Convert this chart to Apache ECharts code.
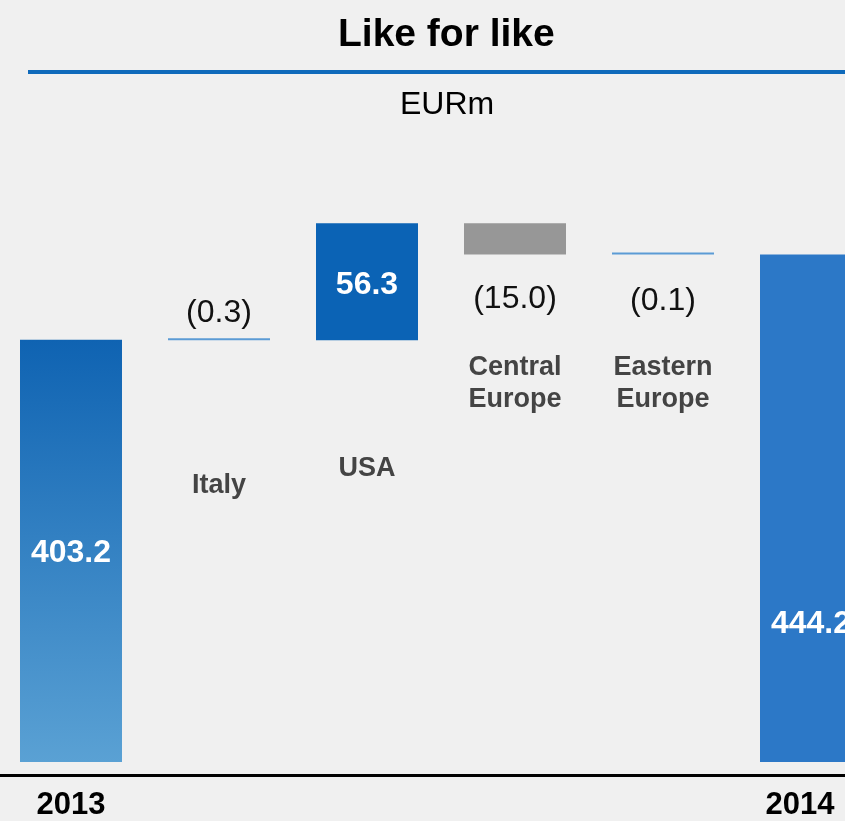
<!DOCTYPE html>
<html>
<head>
<meta charset="utf-8">
<script src="https://cdn.jsdelivr.net/npm/echarts@6/dist/echarts.min.js"></script>
<style>
  html, body { margin: 0; padding: 0; background: #f0f0f0; }
  #main { width: 845px; height: 821px; }
</style>
</head>
<body>
<div id="main"></div>
<script>
// waterfall data (EURm)
var categories = ['2013', 'Italy', 'USA', 'Central Europe', 'Eastern Europe', '2014'];
var labels = ['2013', 'Italy', 'USA', 'Central\nEurope', 'Eastern\nEurope', '2014'];
var startTotal = 403.2;
var changes = [-0.3, 56.3, -15.0, -0.1];
var endTotal = 444.2;

// build base / bar values from running total
var totals = [startTotal, '-', '-', '-', '-', endTotal];
var base = ['-'];
var steps = ['-'];
var running = startTotal;
changes.forEach(function (c) {
  var next = Math.round((running + c) * 10) / 10;
  base.push(Math.min(running, next));
  steps.push(Math.abs(c));
  running = next;
});
base.push('-');
steps.push('-');

var FONT = "'Liberation Sans', Arial, sans-serif";
var stepColors = ['#5b9bd5', '#0b63b5', '#979797', '#5b9bd5'];
var nameDist = [129, 112, 97, 97];
var valLabel = [
  { position: 'top', distance: 9, color: '#111', fontWeight: 'normal' },
  { position: 'inside', color: '#fff', fontWeight: 'bold', offset: [0, 3] },
  { position: 'bottom', distance: 29, color: '#111', fontWeight: 'normal' },
  { position: 'bottom', distance: 31, color: '#111', fontWeight: 'normal' }
];

var myChart = echarts.init(document.getElementById('main'));

myChart.setOption({
  backgroundColor: '#f0f0f0',
  animation: false,
  textStyle: { fontFamily: FONT },
  title: [
    { text: 'Like for like', left: 333, top: 11,
      textStyle: { fontSize: 39, fontWeight: 'bold', color: '#000', fontFamily: FONT } },
    { text: 'EURm', left: 395, top: 84,
      textStyle: { fontSize: 32, fontWeight: 'normal', color: '#000', fontFamily: FONT } }
  ],
  graphic: [
    { type: 'line', shape: { x1: 28, y1: 72, x2: 845, y2: 72 },
      style: { stroke: '#0f6abb', lineWidth: 4 } }
  ],
  grid: { left: -3, width: 888, top: 180, bottom: 59, outerBoundsMode: 'none', containLabel: false },
  xAxis: {
    type: 'category',
    data: categories,
    offset: 13,
    axisLine: { lineStyle: { color: '#000', width: 3 } },
    axisTick: { show: false },
    axisLabel: {
      margin: 15,
      interval: 0,
      showMinLabel: true,
      showMaxLabel: true,
      hideOverlap: false,
      fontSize: 31, fontWeight: 'bold', color: '#000', fontFamily: FONT,
      formatter: function (v, i) {
        if (i === 0) return v;
        if (i === categories.length - 1) return '{last|' + v + '}';
        return '';
      },
      rich: {
        last: { fontSize: 31, fontWeight: 'bold', color: '#000', fontFamily: FONT, padding: [0, 22, 0, 0] }
      }
    }
  },
  yAxis: { type: 'value', min: 200, max: 480, show: false, splitLine: { show: false } },
  series: [
    {
      type: 'bar', name: 'base', stack: 'w', barWidth: 102,
      itemStyle: { color: 'transparent' },
      data: base.map(function (v, i) {
        if (v === '-') return v;
        return {
          value: v,
          label: {
            show: true, position: 'insideTop', distance: nameDist[i - 1],
            formatter: labels[i], fontSize: 27, fontWeight: 'bold',
            color: '#444', lineHeight: 32, fontFamily: FONT
          }
        };
      })
    },
    {
      type: 'bar', name: 'change', stack: 'w', barWidth: 102, barMinHeight: 2,
      data: steps.map(function (v, i) {
        if (v === '-') return v;
        var c = changes[i - 1];
        var l = valLabel[i - 1];
        return {
          value: v,
          itemStyle: { color: stepColors[i - 1] },
          label: {
            show: true, position: l.position, distance: l.distance, offset: l.offset,
            fontSize: 32, lineHeight: 32, fontWeight: l.fontWeight, color: l.color,
            fontFamily: FONT,
            formatter: c < 0 ? '(' + Math.abs(c).toFixed(1) + ')' : c.toFixed(1)
          }
        };
      })
    },
    {
      type: 'bar', name: 'total', barWidth: 102, barGap: '-100%',
      data: totals.map(function (v, i) {
        if (v === '-') return v;
        var first = i === 0;
        return {
          value: v,
          itemStyle: {
            color: first ? new echarts.graphic.LinearGradient(0, 0, 0, 1, [
              { offset: 0, color: '#0f63b2' },
              { offset: 1, color: '#5aa1d4' }
            ]) : '#2c78c7'
          },
          label: {
            show: true,
            position: first ? 'inside' : ['50%', '72.8%'],
            offset: first ? [0, 2] : [0, 0],
            align: 'center', verticalAlign: 'middle',
            fontSize: 32, fontWeight: 'bold', color: '#fff', fontFamily: FONT,
            formatter: v.toFixed(1)
          }
        };
      })
    }
  ]
});
</script>
</body>
</html>
